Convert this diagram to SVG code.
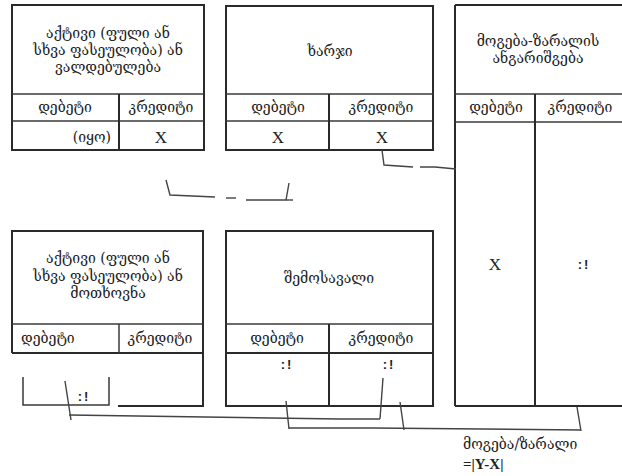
<svg xmlns="http://www.w3.org/2000/svg" width="622" height="476" viewBox="0 0 622 476">
<style>
.bx{fill:none;stroke:#2a2a2a;stroke-width:2}
.sep{fill:none;stroke:#3a3a3a;stroke-width:1.5}
.ln{fill:none;stroke:#444;stroke-width:1.4}
.ge{font-family:"DejaVu Serif","DejaVu Sans",serif;font-size:14px;fill:#222;text-anchor:middle}
.x{font-family:"Liberation Serif",serif;font-size:17px;fill:#222;text-anchor:middle}
.m{font-family:"Liberation Sans",sans-serif;font-size:13px;font-weight:bold;fill:#222;text-anchor:middle;letter-spacing:2px}
</style>
<rect width="622" height="476" fill="#fff"/>
<g id="node-asset-liability">
<rect class="bx" x="12" y="5" width="192" height="145"/>
<line class="sep" x1="12" y1="94" x2="204" y2="94"/>
<line class="sep" x1="12" y1="121" x2="204" y2="121"/>
<line class="bx" x1="119" y1="94" x2="119" y2="150"/>
<text class="ge" x="108" y="38">აქტივი (ფული ან</text>
<text class="ge" x="108" y="55">სხვა ფასეულობა) ან</text>
<text class="ge" x="108" y="72">ვალდებულება</text>
<text class="ge" x="65" y="112">დებეტი</text>
<text class="ge" x="161" y="112">კრედიტი</text>
<text class="ge" x="111" y="142" style="text-anchor:end">(იყო)</text>
<text class="x" x="161" y="143">X</text>
</g>
<g id="node-expense">
<rect class="bx" x="226" y="6" width="207" height="144"/>
<line class="sep" x1="226" y1="94" x2="433" y2="94"/>
<line class="sep" x1="226" y1="121" x2="433" y2="121"/>
<line class="bx" x1="329" y1="94" x2="329" y2="150"/>
<text class="ge" x="330" y="56">ხარჯი</text>
<text class="ge" x="278" y="112">დებეტი</text>
<text class="ge" x="381" y="112">კრედიტი</text>
<text class="x" x="278" y="143">X</text>
<text class="x" x="382" y="143">X</text>
</g>
<g id="node-pl-report">
<line class="bx" x1="455" y1="5" x2="622" y2="5"/>
<line class="bx" x1="455" y1="5" x2="455" y2="406"/>
<line class="bx" x1="455" y1="406" x2="622" y2="406"/>
<line class="sep" x1="455" y1="94" x2="622" y2="94"/>
<line class="sep" x1="455" y1="122" x2="622" y2="122"/>
<line class="bx" x1="535" y1="94" x2="535" y2="406"/>
<text class="ge" x="538" y="46">მოგება-ზარალის</text>
<text class="ge" x="538" y="63">ანგარიშგება</text>
<text class="ge" x="496" y="112">დებეტი</text>
<text class="ge" x="580" y="112">კრედიტი</text>
<text class="x" x="495" y="270">X</text>
<text class="m" x="584" y="269">:!</text>
</g>
<g id="node-asset-receivable">
<polyline class="bx" points="12,353 12,231 203,231 203,406 118,406"/>
<line class="sep" x1="12" y1="324" x2="203" y2="324"/>
<line class="bx" x1="12" y1="353" x2="203" y2="353"/>
<line class="sep" x1="119" y1="324" x2="119" y2="353"/>
<polyline class="sep" points="23,377 23,405 109,405 109,377"/>
<text class="ge" x="108" y="263">აქტივი (ფული ან</text>
<text class="ge" x="108" y="281">სხვა ფასეულობა) ან</text>
<text class="ge" x="108" y="298">მოთხოვნა</text>
<text class="ge" x="21" y="343" style="text-anchor:start">დებეტი</text>
<text class="ge" x="160" y="343">კრედიტი</text>
<text class="m" x="84" y="401">:!</text>
</g>
<g id="node-income">
<rect class="bx" x="226" y="231" width="207" height="175"/>
<line class="sep" x1="226" y1="324" x2="433" y2="324"/>
<line class="bx" x1="226" y1="353" x2="433" y2="353"/>
<line class="bx" x1="329" y1="324" x2="329" y2="406"/>
<text class="ge" x="329" y="283">შემოსავალი</text>
<text class="ge" x="277" y="343">დებეტი</text>
<text class="ge" x="381" y="343">კრედიტი</text>
<text class="m" x="287" y="369">:!</text>
<text class="m" x="389" y="369">:!</text>
</g>
<g id="connectors">
<polyline class="ln" points="166,180 170,195 215,197"/>
<line class="ln" x1="226" y1="198" x2="236" y2="198"/>
<polyline class="ln" points="246,200 286,200 289,183"/>
<line class="ln" x1="286" y1="200" x2="293" y2="200"/>
<polyline class="ln" points="382,150 384,165 413,167"/>
<polyline class="ln" points="420,167 435,167 456,169"/>
<line class="ln" x1="65" y1="381" x2="71" y2="420"/>
<polyline class="ln" points="69,415 137,416 270,418 340,419 380,419"/>
<polyline class="ln" points="383,378 380,419"/>
<line class="ln" x1="286" y1="401" x2="289" y2="429"/>
<polyline class="ln" points="289,428 372,428 581,430"/>
<line class="ln" x1="400" y1="402" x2="404" y2="430"/>
<line class="ln" x1="577" y1="407" x2="581" y2="431"/>
</g>
<g id="result-label">
<text class="ge" x="463" y="449" style="text-anchor:start">მოგება/ზარალი</text>
<text x="463" y="469" font-family="Liberation Serif,serif" font-size="15" font-weight="bold" fill="#222">=|Y-X|</text>
</g>
</svg>
